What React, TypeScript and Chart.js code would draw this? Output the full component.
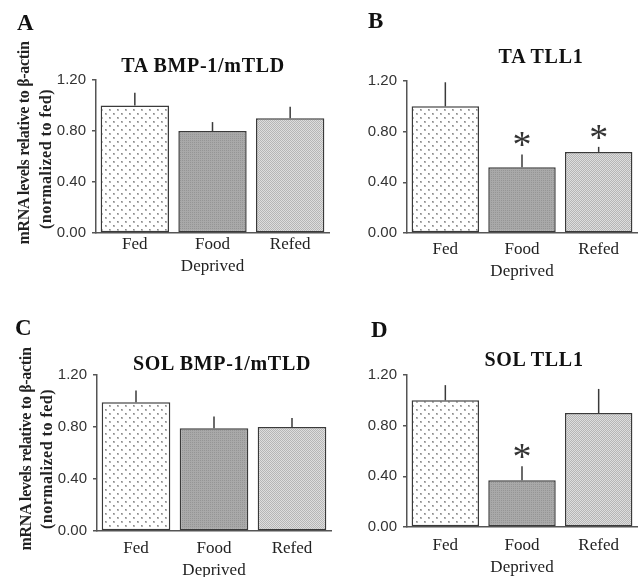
import React, { useEffect, useRef } from "react";
import { Chart, registerables } from "chart.js";
Chart.register(...registerables);

// ---- data ----
const categories: (string | string[])[] = ["Fed", ["Food", "Deprived"], "Refed"];
const panelLetters = ["A", "B", "C", "D"];
const panelTitles = ["TA BMP-1/mTLD", "TA TLL1", "SOL BMP-1/mTLD", "SOL TLL1"];
const yTickValues = [0, 0.4, 0.8, 1.2];
const yAxisTitle = ["mRNA levels relative to β-actin", "(normalized to fed)"];

const taBmpMean = [1.0, 0.8, 0.9];
const taBmpSE = [0.1, 0.07, 0.09];
const taBmpSig = [false, false, false];

const taTllMean = [1.0, 0.52, 0.64];
const taTllSE = [0.19, 0.1, 0.04];
const taTllSig = [false, true, true];

const solBmpMean = [0.99, 0.79, 0.8];
const solBmpSE = [0.09, 0.09, 0.07];
const solBmpSig = [false, false, false];

const solTllMean = [1.0, 0.37, 0.9];
const solTllSE = [0.12, 0.11, 0.19];
const solTllSig = [false, true, false];

const panelData = [
  { mean: taBmpMean, se: taBmpSE, sig: taBmpSig },
  { mean: taTllMean, se: taTllSE, sig: taTllSig },
  { mean: solBmpMean, se: solBmpSE, sig: solBmpSig },
  { mean: solTllMean, se: solTllSE, sig: solTllSig },
];

// ---- layout (positions only) ----
const layouts = [
  { left: 0, top: 0, w: 335, h: 280, area: { l: 96, r: 329, t: 80, b: 233 }, tickPad: 0,
    letter: { x: 17, y: 30 }, title: { x: 203, y: 72 }, ylab: [{ x: 24, y: 143 }, { x: 46, y: 159 }] },
  { left: 335, top: 0, w: 303, h: 280, area: { l: 72, r: 302, t: 81, b: 233 }, tickPad: 5,
    letter: { x: 368, y: 28 }, title: { x: 541, y: 63 }, ylab: null },
  { left: 0, top: 280, w: 335, h: 297, area: { l: 97, r: 331, t: 95, b: 251 }, tickPad: 6,
    letter: { x: 15, y: 335 }, title: { x: 222, y: 370 }, ylab: [{ x: 26, y: 449 }, { x: 47, y: 459 }] },
  { left: 335, top: 280, w: 303, h: 297, area: { l: 72, r: 302, t: 95, b: 247 }, tickPad: 7,
    letter: { x: 371, y: 337 }, title: { x: 534, y: 366 }, ylab: null },
];

const SERIF = '"Liberation Serif", "Times New Roman", serif';
const SANS = '"Liberation Sans", Arial, sans-serif';

function makePattern(kind: number): CanvasPattern | string {
  const c = document.createElement("canvas");
  const g = c.getContext("2d");
  if (!g) return "#ccc";
  if (kind === 0) {
    c.width = 8; c.height = 8;
    g.fillStyle = "#ffffff"; g.fillRect(0, 0, 8, 8);
    g.fillStyle = "#b4b4b4";
    g.fillRect(1, 1, 2, 2);
    g.fillRect(5, 5, 2, 2);
    g.fillStyle = "#8a8a8a";
    g.fillRect(1, 1, 1, 1);
    g.fillRect(5, 5, 1, 1);
  } else if (kind === 1) {
    c.width = 2; c.height = 2;
    g.fillStyle = "#a9a9a9"; g.fillRect(0, 0, 2, 2);
    g.fillStyle = "#959595"; g.fillRect(0, 0, 1, 1);
  } else {
    c.width = 2; c.height = 2;
    g.fillStyle = "#dedede"; g.fillRect(0, 0, 2, 2);
    g.fillStyle = "#b6b6b6"; g.fillRect(0, 0, 1, 1); g.fillRect(1, 1, 1, 1);
  }
  return g.createPattern(c, "repeat") || "#ccc";
}

const errorPlugin = {
  id: "errbars",
  afterDatasetsDraw(chart: any, _args: any, opts: any) {
    const { ctx } = chart;
    const meta = chart.getDatasetMeta(0);
    const ys = chart.scales.y;
    const vals = chart.data.datasets[0].data as number[];
    ctx.save();
    ctx.strokeStyle = "#3a3a3a";
    ctx.lineWidth = 1.5;
    meta.data.forEach((bar: any, i: number) => {
      const topPx = ys.getPixelForValue(vals[i] + opts.se[i]);
      ctx.beginPath();
      ctx.moveTo(bar.x, bar.y);
      ctx.lineTo(bar.x, topPx);
      ctx.stroke();
      if (opts.sig[i]) {
        ctx.fillStyle = "#333";
        ctx.font = `38px ${SERIF}`;
        ctx.textAlign = "center";
        ctx.textBaseline = "alphabetic";
        ctx.fillText("*", bar.x, topPx + 3);
      }
    });
    ctx.restore();
  },
};

function Panel({ idx }: { idx: number }) {
  const ref = useRef<HTMLCanvasElement>(null);
  const L = layouts[idx];
  const D = panelData[idx];
  useEffect(() => {
    if (!ref.current) return;
    const fills = [makePattern(0), makePattern(1), makePattern(2)];
    const chart = new Chart(ref.current, {
      type: "bar",
      data: {
        labels: categories as any,
        datasets: [
          {
            data: D.mean,
            backgroundColor: fills as any,
            borderColor: "#3a3a3a",
            borderWidth: 1.5,
            borderSkipped: false,
            categoryPercentage: 0.88,
            barPercentage: 1,
          },
        ],
      },
      options: {
        animation: false,
        responsive: false,
        events: [],
        layout: { padding: { left: 0, top: L.area.t, right: L.w - L.area.r, bottom: 0 } },
        plugins: {
          legend: { display: false },
          tooltip: { enabled: false },
          errbars: { se: D.se, sig: D.sig },
        } as any,
        scales: {
          x: {
            grid: { display: false, drawTicks: false },
            border: { display: true, color: "#555", width: 1.5 },
            ticks: {
              color: "#222",
              padding: L.tickPad,
              maxRotation: 0,
              autoSkip: false,
              font: { family: SERIF, size: 17, lineHeight: 1.3 },
            },
            afterFit: (s: any) => { s.height = L.h - L.area.b; },
          },
          y: {
            min: 0,
            max: 1.2,
            grid: { display: true, drawOnChartArea: false, drawTicks: true, tickLength: 4, color: "#555", lineWidth: 1.5 },
            border: { display: true, color: "#555", width: 1.5 },
            ticks: {
              color: "#333",
              padding: 6,
              font: { family: SANS, size: 15 },
              callback: (v: any) => Number(v).toFixed(2),
            },
            afterBuildTicks: (s: any) => { s.ticks = yTickValues.map((v) => ({ value: v })); },
            afterFit: (s: any) => { s.width = L.area.l; },
          },
        },
      },
      plugins: [errorPlugin],
    });
    return () => chart.destroy();
  }, []);
  return (
    <canvas
      ref={ref}
      width={L.w}
      height={L.h}
      style={{ position: "absolute", left: L.left, top: L.top, width: L.w, height: L.h }}
    />
  );
}

export default function App() {
  return (
    <div style={{ position: "absolute", left: 0, top: 0, width: 638, height: 577, background: "#fff", overflow: "hidden" }}>
      {layouts.map((L, i) => (
        <React.Fragment key={i}>
          <Panel idx={i} />
          <div style={{ position: "absolute", left: L.letter.x, top: L.letter.y - 0.8375 * 23, fontFamily: SERIF, fontWeight: "bold", fontSize: 23, lineHeight: "23px", color: "#111" }}>
            {panelLetters[i]}
          </div>
          <div style={{ position: "absolute", left: L.title.x, top: L.title.y - 0.8375 * 20, transform: "translateX(-50%)", whiteSpace: "nowrap", fontFamily: SERIF, fontWeight: "bold", fontSize: 20, lineHeight: "20px", letterSpacing: "0.7px", color: "#111" }}>
            {panelTitles[i]}
          </div>
          {L.ylab && L.ylab.map((p, j) => (
            <div key={j} style={{ position: "absolute", left: p.x, top: p.y, transform: "translate(-50%, -50%) rotate(-90deg)", whiteSpace: "nowrap", fontFamily: SERIF, fontWeight: "bold", fontSize: 16, lineHeight: "16px", letterSpacing: j === 0 ? "-0.3px" : "0.5px", color: "#222" }}>
              {yAxisTitle[j]}
            </div>
          ))}
        </React.Fragment>
      ))}
    </div>
  );
}
